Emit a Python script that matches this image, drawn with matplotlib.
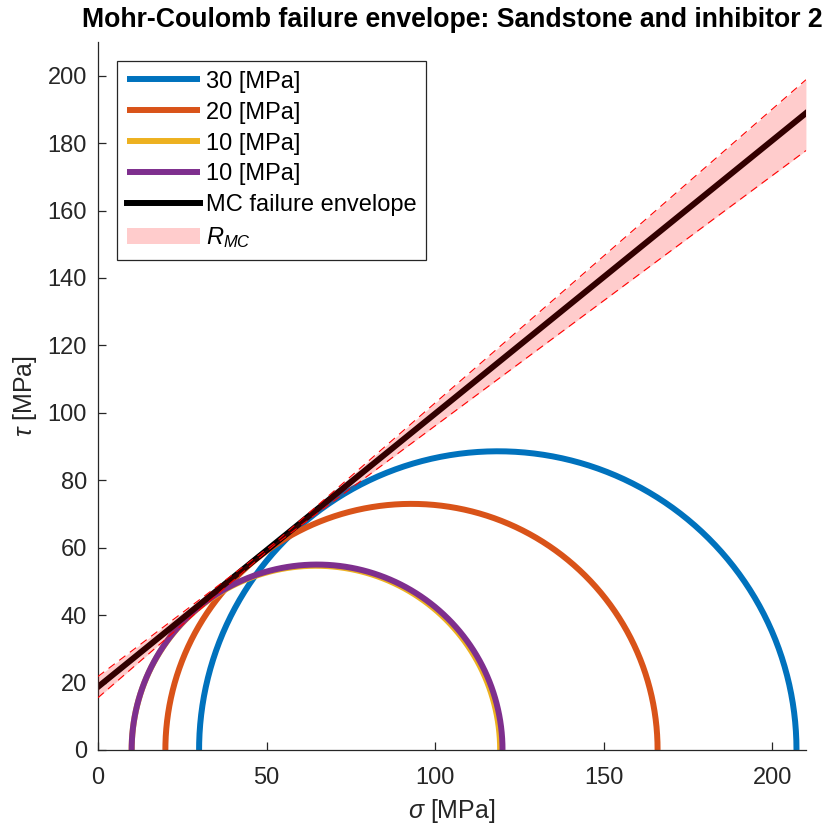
import numpy as np
import matplotlib
matplotlib.use("Agg")
import matplotlib.pyplot as plt

plt.rcParams['font.family'] = ['Liberation Sans', 'DejaVu Sans']
plt.rcParams['mathtext.fontset'] = 'custom'
plt.rcParams['mathtext.rm'] = 'Liberation Sans'
plt.rcParams['mathtext.it'] = 'Liberation Sans:italic'

# Data
labels = ['30 [MPa]', '20 [MPa]', '10 [MPa]', '10 [MPa]']
sigma3 = [30.0, 20.0, 10.0, 10.0]
sigma1 = [207.2, 166.0, 119.3, 120.0]
colors = ['#0072BD', '#D95319', '#EDB120', '#7E2F8E']

env_sigma = [0.0, 210.0]
env_tau = [18.7, 188.9]
band_sigma = [0.0, 52.0, 210.0]
band_upper = [21.8, 61.1, 198.8]
band_lower = [15.5, 60.5, 177.8]

xticks = [0, 50, 100, 150, 200]
yticks = [0, 20, 40, 60, 80, 100, 120, 140, 160, 180, 200]

fig = plt.figure(figsize=(8.3, 8.3), dpi=100)
ax = fig.add_axes([0.118, 0.0964, 0.853, 0.853])

theta = np.linspace(0, np.pi, 400)
for s3, s1, c, lab in zip(sigma3, sigma1, colors, labels):
    cen = (s1 + s3) / 2
    r = (s1 - s3) / 2
    ax.plot(cen + r * np.cos(theta), r * np.sin(theta), color=c, lw=4.3, label=lab,
            solid_capstyle='butt', zorder=2)

ax.plot(env_sigma, env_tau, color='black', lw=4.3, label='MC failure envelope', zorder=2)
ax.fill_between(band_sigma, band_lower, band_upper, color='red', alpha=0.2, lw=0,
                label='$R_{MC}$', zorder=3)
ax.plot(band_sigma, band_upper, color='red', lw=0.8, ls=(0, (7, 5)), zorder=4)
ax.plot(band_sigma, band_lower, color='red', lw=0.8, ls=(0, (7, 5)), zorder=4)

ax.set_xlim(0, 210)
ax.set_ylim(0, 210)
ax.set_xticks(xticks)
ax.set_yticks(yticks)
for s in ['top', 'right']:
    ax.spines[s].set_visible(False)
for s in ['left', 'bottom']:
    ax.spines[s].set_color('#262626')
    ax.spines[s].set_linewidth(0.9)
ax.tick_params(direction='in', length=6, width=0.9, colors='#262626', labelsize=17)
ax.tick_params(axis='x', pad=12)
ax.tick_params(axis='y', pad=8)

ax.set_xlabel(r'$\sigma$ [MPa]', fontsize=18, color='#262626', labelpad=6)
ax.set_ylabel(r'$\tau$ [MPa]', fontsize=18, color='#262626', labelpad=6)
ax.set_title('Mohr-Coulomb failure envelope: Sandstone and inhibitor 2',
             fontsize=19.2, fontweight='bold', pad=11)

leg = ax.legend(loc='upper left', bbox_to_anchor=(0.027, 0.973), fontsize=17,
                frameon=True, fancybox=False, edgecolor='#262626', framealpha=1,
                handlelength=3.1, handletextpad=0.25, borderpad=0.4,
                labelspacing=0.38, borderaxespad=0)
leg.get_frame().set_linewidth(0.9)

fig.savefig('out.png', dpi=100)
